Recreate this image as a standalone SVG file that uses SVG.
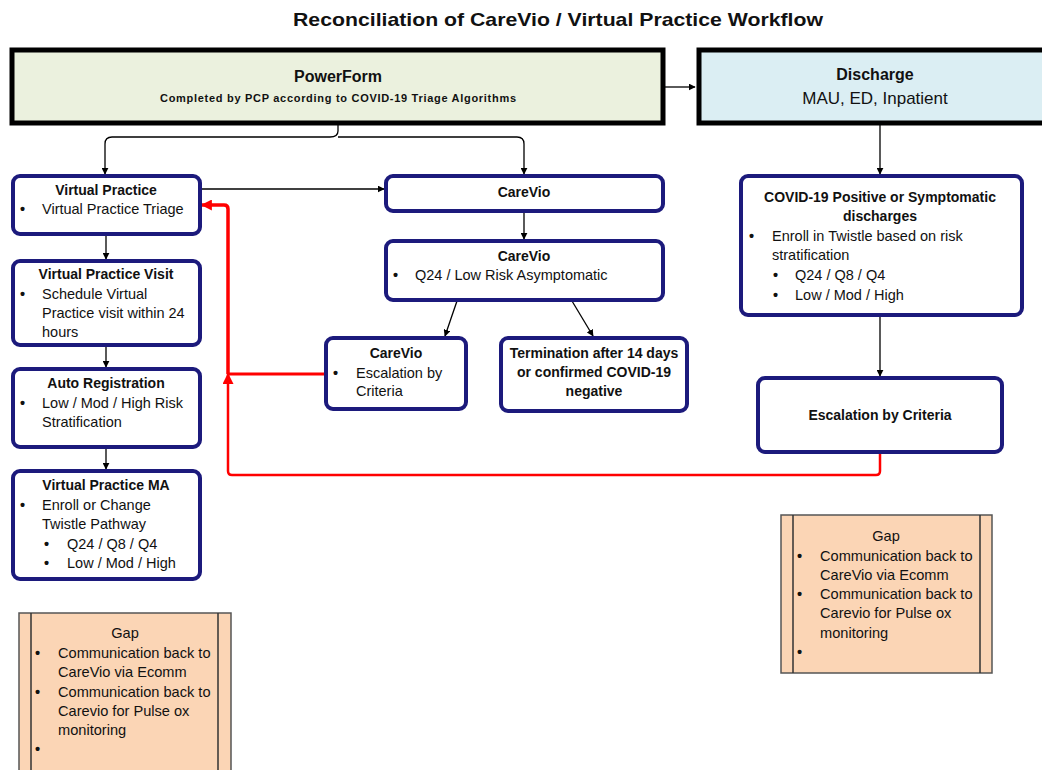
<svg xmlns="http://www.w3.org/2000/svg" width="1042" height="770" viewBox="0 0 1042 770">
<style>
text{font-family:"Liberation Sans",Arial,sans-serif;fill:#111;font-size:14.5px}
.t{font-weight:bold;font-size:14px}
.c{text-anchor:middle}
.b{font-weight:bold}
.nb{fill:#fff;stroke:#1c1a7c;stroke-width:4}
.gap{fill:#fbd5b5;stroke:#555;stroke-width:1.5}
.g text{font-size:14.6px}
.blk{stroke:#000;stroke-width:1.3;fill:none}
.red{stroke:#ff0000;fill:none}
</style>
<defs>
<marker id="ab" viewBox="0 0 10 10" refX="9" refY="5" markerWidth="7" markerHeight="7" orient="auto-start-reverse" markerUnits="userSpaceOnUse"><path d="M0,0L10,5L0,10z" fill="#000"/></marker>
<marker id="ar" viewBox="0 0 10 10" refX="9" refY="5" markerWidth="11" markerHeight="11" orient="auto" markerUnits="userSpaceOnUse"><path d="M0,0L10,5L0,10z" fill="#ff0000"/></marker>
</defs>
<rect width="1042" height="770" fill="#fff"/>
<text x="558" y="26" class="c" style="font-size:18.5px;font-weight:bold" textLength="530" lengthAdjust="spacingAndGlyphs">Reconciliation of CareVio / Virtual Practice Workflow</text>

<g id="connectors">
<path class="blk" d="M665,87H695" marker-end="url(#ab)"/>
<path class="blk" d="M338,125V131 M338,131Q338,137 330,137H112Q105,137 105,144V174" marker-end="url(#ab)"/>
<path class="blk" d="M338,137H517Q524,137 524,144V174" marker-end="url(#ab)"/>
<path class="blk" d="M200,189H384" marker-end="url(#ab)"/>
<path class="blk" d="M524,212V239" marker-end="url(#ab)"/>
<path class="blk" d="M457,301L445,336" marker-end="url(#ab)"/>
<path class="blk" d="M572,301L593,336" marker-end="url(#ab)"/>
<path class="blk" d="M106,235V259" marker-end="url(#ab)"/>
<path class="blk" d="M106,345V367" marker-end="url(#ab)"/>
<path class="blk" d="M106,447V469" marker-end="url(#ab)"/>
<path class="blk" d="M880,125V174" marker-end="url(#ab)"/>
<path class="blk" d="M880,316V376" marker-end="url(#ab)"/>
<path class="red" stroke-width="2.5" d="M880,453V471Q880,475 876,475H232Q228,475 228,471V374" marker-end="url(#ar)"/>
<path class="red" stroke-width="3" d="M326,374H228"/>
<path class="red" stroke-width="3.5" d="M228,374V209Q228,205 224,205H202" marker-end="url(#ar)"/>
</g>

<g id="powerform">
<rect x="12" y="50" width="651" height="73" fill="#ebf1de" stroke="#000" stroke-width="5"/>
<text x="338" y="82" class="c" style="font-size:16px;font-weight:bold">PowerForm</text>
<text x="338" y="102" class="c" style="font-size:11px;font-weight:bold" textLength="356">Completed by PCP according to COVID-19 Triage Algorithms</text>
</g>
<g id="discharge">
<rect x="699" y="50" width="350" height="73" fill="#dbeef3" stroke="#000" stroke-width="5"/>
<text x="875" y="80" class="c" style="font-size:16px;font-weight:bold">Discharge</text>
<text x="875" y="104" class="c" style="font-size:17px">MAU, ED, Inpatient</text>
</g>

<g id="vp">
<rect x="13" y="176" width="187" height="58" rx="7" class="nb"/>
<text x="106" y="195" class="t c">Virtual Practice</text>
<text x="20" y="214" class="b">•</text><text x="42" y="214">Virtual Practice Triage</text>
</g>
<g id="vpvisit">
<rect x="13" y="261" width="187" height="84" rx="7" class="nb"/>
<text x="106" y="279" class="t c">Virtual Practice Visit</text>
<text x="20" y="299" class="b">•</text><text x="42" y="299">Schedule Virtual</text>
<text x="42" y="318">Practice visit within 24</text>
<text x="42" y="337">hours</text>
</g>
<g id="autoreg">
<rect x="13" y="369" width="187" height="78" rx="7" class="nb"/>
<text x="106" y="388" class="t c">Auto Registration</text>
<text x="20" y="408" class="b">•</text><text x="42" y="408">Low / Mod / High Risk</text>
<text x="42" y="427">Stratification</text>
</g>
<g id="vpma">
<rect x="13" y="471" width="187" height="108" rx="7" class="nb"/>
<text x="106" y="490" class="t c">Virtual Practice MA</text>
<text x="20" y="510" class="b">•</text><text x="42" y="510">Enroll or Change</text>
<text x="42" y="529">Twistle Pathway</text>
<text x="44" y="549" class="b">•</text><text x="67" y="549">Q24 / Q8 / Q4</text>
<text x="44" y="568" class="b">•</text><text x="67" y="568">Low / Mod / High</text>
</g>

<g id="carevio1">
<rect x="386" y="176" width="277" height="35" rx="7" class="nb"/>
<text x="524" y="197" class="t c">CareVio</text>
</g>
<g id="carevio2">
<rect x="386" y="241" width="277" height="59" rx="7" class="nb"/>
<text x="524" y="261" class="t c">CareVio</text>
<text x="393" y="280" class="b">•</text><text x="415" y="280">Q24 / Low Risk Asymptomatic</text>
</g>
<g id="carevioesc">
<rect x="326" y="338" width="140" height="71" rx="7" class="nb"/>
<text x="396" y="358" class="t c">CareVio</text>
<text x="333" y="378" class="b">•</text><text x="356" y="378">Escalation by</text>
<text x="356" y="396">Criteria</text>
</g>
<g id="termination">
<rect x="501" y="338" width="186" height="73" rx="7" class="nb"/>
<text x="594" y="358" class="t c">Termination after 14 days</text>
<text x="594" y="377" class="t c">or confirmed COVID-19</text>
<text x="594" y="396" class="t c">negative</text>
</g>

<g id="covid">
<rect x="741" y="176" width="281" height="139" rx="7" class="nb"/>
<text x="880" y="202" class="t c">COVID-19 Positive or Symptomatic</text>
<text x="880" y="221" class="t c">discharges</text>
<text x="749" y="241" class="b">•</text><text x="772" y="241">Enroll in Twistle based on risk</text>
<text x="772" y="260">stratification</text>
<text x="773" y="280" class="b">•</text><text x="795" y="280">Q24 / Q8 / Q4</text>
<text x="773" y="300" class="b">•</text><text x="795" y="300">Low / Mod / High</text>
</g>
<g id="escalation">
<rect x="758" y="378" width="244" height="74" rx="7" class="nb"/>
<text x="880" y="420" class="t c">Escalation by Criteria</text>
</g>

<g id="gap-right" class="g">
<rect x="781" y="515" width="211" height="158" class="gap"/>
<path d="M793,515V673M980,515V673" stroke="#333" stroke-width="1.5"/>
<text x="886" y="541" class="c">Gap</text>
<text x="797" y="561" class="b">•</text><text x="820" y="561">Communication back to</text>
<text x="820" y="580">CareVio via Ecomm</text>
<text x="797" y="599" class="b">•</text><text x="820" y="599">Communication back to</text>
<text x="820" y="618">Carevio for Pulse ox</text>
<text x="820" y="638">monitoring</text>
<text x="797" y="657" class="b">•</text>
</g>
<g id="gap-left" class="g">
<rect x="19" y="613" width="212" height="162" class="gap"/>
<path d="M31,613V775M218,613V775" stroke="#333" stroke-width="1.5"/>
<text x="125" y="638" class="c">Gap</text>
<text x="35" y="658" class="b">•</text><text x="58" y="658">Communication back to</text>
<text x="58" y="677">CareVio via Ecomm</text>
<text x="35" y="697" class="b">•</text><text x="58" y="697">Communication back to</text>
<text x="58" y="716">Carevio for Pulse ox</text>
<text x="58" y="735">monitoring</text>
<text x="35" y="754" class="b">•</text>
</g>
</svg>
